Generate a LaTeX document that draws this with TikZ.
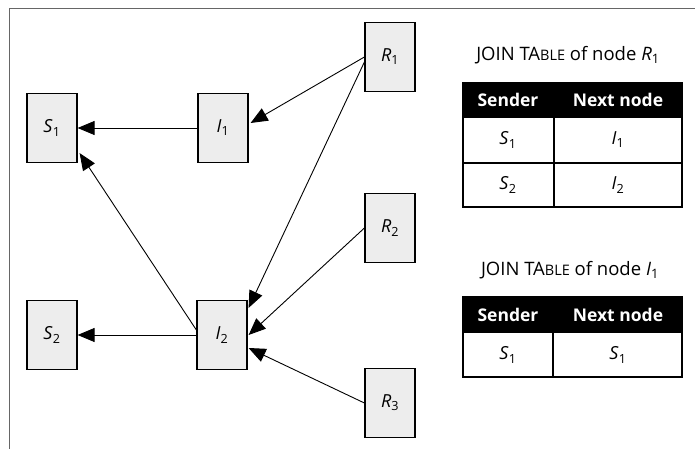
\documentclass[tikz,border=0pt]{standalone}
\usepackage{fontspec}
\setmainfont{Open Sans}
\usetikzlibrary{arrows.meta}
\newcommand{\nm}[2]{\textit{#1}\textsubscript{#2}}

\begin{document}
\begin{tikzpicture}[x=1pt,y=-1pt,
  knoten/.style={draw,line width=1.2pt,fill=black!7,minimum width=50pt,minimum height=69pt,inner sep=0pt,font=\fontsize{18}{21}\selectfont},
  pfeil/.style={line width=0.9pt,-{Triangle[length=17pt,width=14pt]}},
  kopf/.style={text=white,font=\fontsize{17.5}{20}\selectfont\bfseries},
  zelle/.style={font=\fontsize{18}{21}\selectfont},
  titel/.style={font=\fontsize{18.5}{22}\selectfont}]
\useasboundingbox (0,0) rectangle (695,449);
\draw [line width=0.8pt,black!60] (9,449) -- (9,8) -- (695,8);
\node [knoten] (S1) at (52,128){\nm{S}{1}};
\node [knoten] (I1) at (223,128){\nm{I}{1}};
\node [knoten] (R1) at (390,57){\nm{R}{1}};
\node [knoten] (R2) at (390,228){\nm{R}{2}};
\node [knoten] (S2) at (52,335){\nm{S}{2}};
\node [knoten] (I2) at (222,335){\nm{I}{2}};
\node [knoten] (R3) at (390,403){\nm{R}{3}};
\draw [pfeil] (I1.west) -- (S1.east);
\draw [pfeil] (R1.west) -- ([xshift=2pt,yshift=5pt]I1.east);
\draw [pfeil] ([yshift=-5pt]R1.west) -- ([xshift=1pt,yshift=-8pt]I2.north east);
\draw [pfeil] (R2.west) -- ([xshift=1pt]I2.east);
\draw [pfeil] (R3.west) -- ([xshift=1pt,yshift=-13pt]I2.east);
\draw [pfeil] ([yshift=5pt]I2.west) -- ([xshift=2pt,yshift=10pt]S1.south east);
\draw [pfeil] (I2.west) -- (S2.east);
\node [titel] (T1) at (568,55){JOIN TA{\fontsize{14.5}{17}\selectfont BLE} of node \nm{R}{1}};
\fill (463,83) rectangle (682,118);
\draw [line width=1.2pt] (463,83) rectangle (682,207);
\draw [line width=1.2pt] (463,163) -- (682,163);
\draw [line width=1.2pt] (554,118) -- (554,207);
\node [kopf] (a1) at (508,100){Sender};
\node [kopf] (b1) at (618,100){Next node};
\node [zelle] (a2) at (508,140){\nm{S}{1}};
\node [zelle] (b2) at (618,140){\nm{I}{1}};
\node [zelle] (a3) at (508,185){\nm{S}{2}};
\node [zelle] (b3) at (618,185){\nm{I}{2}};
\node [titel] (T2) at (570,270){JOIN TA{\fontsize{14.5}{17}\selectfont BLE} of node \nm{I}{1}};
\fill (463,297) rectangle (682,333);
\draw [line width=1.2pt] (463,297) rectangle (682,377);
\draw [line width=1.2pt] (553,333) -- (553,377);
\node [kopf] (c1) at (508,315){Sender};
\node [kopf] (d1) at (618,315){Next node};
\node [zelle] (c2) at (508,355){\nm{S}{1}};
\node [zelle] (d2) at (618,355){\nm{S}{1}};
\end{tikzpicture}
\end{document}
